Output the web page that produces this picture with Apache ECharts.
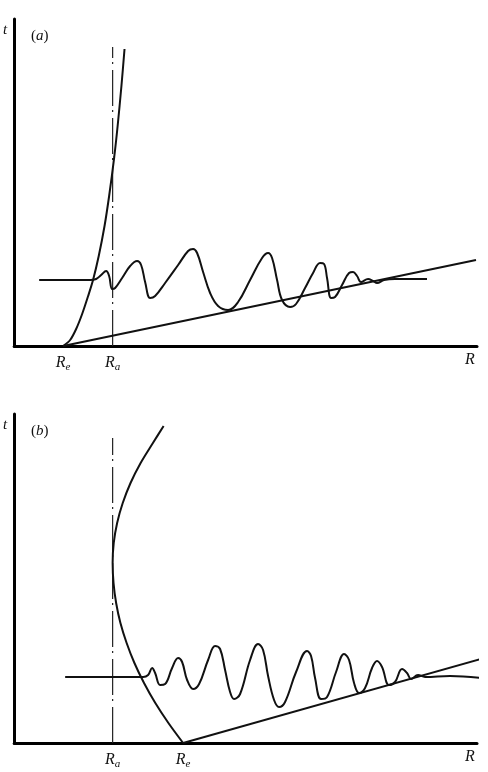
<!DOCTYPE html>
<html><head><meta charset="utf-8">
<script src="https://cdn.jsdelivr.net/npm/echarts@6/dist/echarts.min.js"></script>
<style>html,body{margin:0;padding:0;background:#fff}#c{width:488px;height:772px}</style>
</head><body><div id="c"></div>
<script>
// ---------- Panel (a) data (x: R units, y: t units) ----------
const aEnvelope = [[49,0],[56,6],[62,17],[68,32],[74,50],[78.9,66],[84.6,90],[90.4,120],[95,150],[100.1,189],[103.5,220],[107.3,260],[110.4,297]];
const aBaseLine = [[49,0],[462,86]];
const aRaLine = [[98.5,0],[98.5,299]];
const aWave = [[25,66],[76,66],[82,67],[87,71],[92,75],[95,70],[98,57],[101,58],[108,68],[116,80],[123,85],[127,81],[131,64],[136,48],[141,50],[151,63],[164,81],[174,95],[179,97],[183,93],[189,74],[196,53],[204,40],[214,36],[224,44],[236,66],[248,88],[254,93],[258,88],[263,66],[268,46],[276,39],[282,42],[291,58],[299,73],[306,83],[310,82],[313,68],[317,48],[321,49],[328,61],[335,73],[339,74],[343,70],[347,64],[354,67],[359,65],[363,63],[370,66],[381,67],[413,67]];
const aXTicks = [49, 98.5, 456];
const aXTickLabels = ['{r|R}{s|e}', '{r|R}{s|a}', '{r|R}'];

// ---------- Panel (b) data ----------
const bEnvelope = [[149.5,317],[138.8,300],[126.5,280],[116.4,260],[108.6,240],[103,220],[99.6,200],[98.5,180],[99.4,160],[102,140],[106.3,120],[112.5,100],[120.3,80],[129.9,60],[141.2,40],[154.3,20],[169,0]];
const bBaseLine = [[169,0],[467,84]];
const bRaLine = [[98.5,0],[98.5,305]];
const bWave = [[51,66],[129,66],[134,68],[138,75],[141,70],[146,58],[151,59],[158,75],[164,85],[168,81],[173,63],[179,54],[185,59],[194,83],[201,97],[206,94],[211,73],[216,51],[220,44],[226,49],[236,83],[244,99],[249,93],[254,67],[260,43],[265,36],[271,41],[282,71],[293,92],[297,87],[301,65],[307,44],[313,46],[322,71],[330,89],[335,83],[340,60],[345,50],[351,55],[358,75],[363,82],[368,76],[375,58],[381,61],[388,74],[393,70],[397,64],[404,68],[411,66],[436,67],[468,65]];
const bXTicks = [98.5, 169, 456];
const bXTickLabels = ['{r|R}{s|a}', '{r|R}{s|e}', '{r|R}'];

const yTickA = [316], yTickB = [318];
const yTickLabels = ['t'];
const panelLabels = ['({i|a})', '({i|b})'];

const serif = 'Liberation Serif, Times New Roman, serif';
const ink = '#111';
const rich = {
  r: {fontFamily: serif, fontStyle: 'italic', fontSize: 16, color: ink},
  s: {fontFamily: serif, fontStyle: 'italic', fontSize: 11, color: ink, padding: [10,0,0,0]}
};

function xAxisFor(gi, ticks, labels) {
  return {
    type: 'value', gridIndex: gi, min: 0, max: 463,
    splitLine: {show: false}, axisTick: {show: false},
    axisLine: {show: true, onZero: false, lineStyle: {color: '#000', width: 3}},
    axisLabel: {
      customValues: ticks, margin: 6, rich: rich,
      formatter: v => { const i = ticks.indexOf(v); return i >= 0 ? labels[i] : ''; }
    }
  };
}
function yAxisFor(gi, max, ticks) {
  return {
    type: 'value', gridIndex: gi, min: 0, max: max,
    splitLine: {show: false}, axisTick: {show: false},
    axisLine: {show: true, onZero: false, lineStyle: {color: '#000', width: 3}},
    axisLabel: {
      customValues: ticks, margin: 7,
      fontFamily: serif, fontStyle: 'italic', fontSize: 15, color: ink,
      formatter: v => ticks.indexOf(v) >= 0 ? yTickLabels[0] : ''
    }
  };
}
function lineSeries(gi, data, opts) {
  return Object.assign({
    type: 'line', xAxisIndex: gi, yAxisIndex: gi, data: data,
    showSymbol: false, symbol: 'none', clip: false, animation: false,
    lineStyle: {color: ink, width: 2}, silent: true
  }, opts || {});
}
const dashDot = {color: '#222', width: 1.2, type: [36, 6, 2, 4]};
const panelText = t => ({text: t, fontFamily: serif, fontSize: 15, fill: ink,
  rich: {i: {fontFamily: serif, fontStyle: 'italic', fontSize: 15, color: ink}}});

const chart = echarts.init(document.getElementById('c'), null, {renderer: 'canvas'});
chart.setOption({
  animation: false,
  backgroundColor: '#fff',
  grid: [
    {left: 14, top: 19, width: 463, height: 327},
    {left: 14, top: 414, width: 463, height: 329}
  ],
  xAxis: [xAxisFor(0, aXTicks, aXTickLabels), xAxisFor(1, bXTicks, bXTickLabels)],
  yAxis: [yAxisFor(0, 327, yTickA), yAxisFor(1, 329, yTickB)],
  graphic: [
    {type: 'text', left: 31, top: 29, style: panelText(panelLabels[0])},
    {type: 'text', left: 31, top: 424, style: panelText(panelLabels[1])}
  ],
  series: [
    lineSeries(0, aRaLine, {lineStyle: dashDot}),
    lineSeries(0, aBaseLine),
    lineSeries(0, aEnvelope, {smooth: 0.3}),
    lineSeries(0, aWave, {smooth: 0.4}),
    lineSeries(1, bRaLine, {lineStyle: dashDot}),
    lineSeries(1, bBaseLine),
    lineSeries(1, bEnvelope, {smooth: 0.3}),
    lineSeries(1, bWave, {smooth: 0.4})
  ]
});
</script>
</body></html>
